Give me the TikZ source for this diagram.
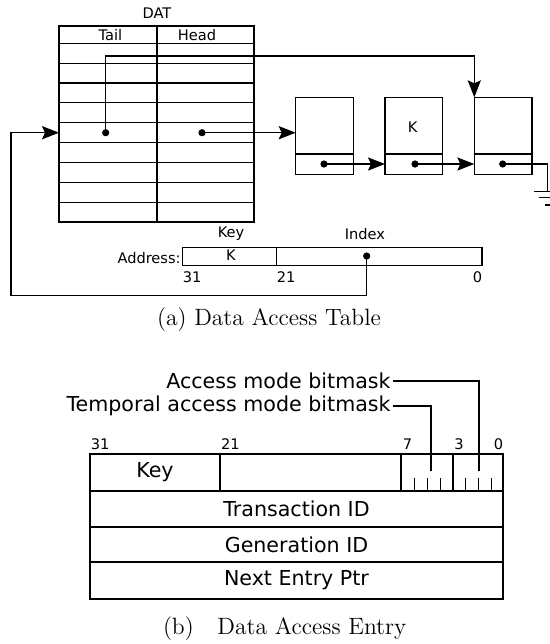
\documentclass[tikz,border=0pt]{standalone}
\usepackage{fontspec}
\newfontfamily\dv{DejaVu Sans}
\usetikzlibrary{arrows.meta}
\begin{document}
\begin{tikzpicture}[x=0.5pt,y=-0.5pt,
  thinln/.style={line width=0.6pt},
  thickln/.style={line width=0.95pt},
  arr/.style={-{Stealth[length=8.5pt,width=6.6pt,inset=1.5pt]}, line width=0.6pt},
  dot/.style={circle,fill,inner sep=0pt,minimum size=3.6pt},
  small/.style={font=\dv\fontsize{7.3}{8.8}\selectfont, inner sep=0pt},
  big/.style={font=\dv\fontsize{10.3}{12}\selectfont, inner sep=0pt},
  capt/.style={font=\fontsize{11.8}{14}\selectfont, inner sep=0pt}]
\useasboundingbox (0,0) rectangle (550,644);

% ---------- (a) DAT table ----------
\node[small] (dat) at (157,13) {DAT};
\draw[thinln] (59,26) rectangle (254,222);
\draw[thinln] (157,26) -- (157,222);
\draw[thinln] (59,43.3) -- (254,43.3);
\foreach \i in {1,...,8} \draw[thinln] (59,43.3+19.86*\i) -- (254,43.3+19.86*\i);
\node[small] (tail) at (110.5,34.7) {Tail};
\node[small] (head) at (197,34.7) {Head};
\node[dot] (tdot) at (105.7,132.7) {};
\node[dot] (hdot) at (202,132.7) {};
\coordinate (tin) at (59,132.7);

% list boxes
\foreach \n/\x in {b1/295.7,b2/385,b3/474.3}{
  \draw[thinln] (\x,97.3) rectangle (\x+57.7,174.7);
  \draw[thinln] (\x,154) -- (\x+57.7,154);
  \coordinate (\n tl) at (\x,97.3);
  \coordinate (\n in) at (\x,164);
  \coordinate (\n hin) at (\x,132.7);
}
\node[dot] (d1) at (324,164) {};
\node[dot] (d2) at (415,164) {};
\node[dot] (d3) at (502.7,164) {};
\node[small] (kbox) at (412.7,126.7) {K};

\draw[arr] (tdot.center) -- (105.7,56) -- (474.3,56) -- (b3tl);
\draw[arr] (hdot.center) -- (b1hin);
\draw[arr] (d1.center) -- (b2in);
\draw[arr] (d2.center) -- (b3in);
\coordinate (gnd) at (547.5,191.7);
\draw[thinln] (d3.center) -- (547.5,164) -- (gnd);
\draw[thinln] (534,191.7) -- (561,191.7);
\draw[thinln] (539,197.7) -- (556,197.7);
\draw[thinln] (545,205) -- (550,205);

% address
\draw[thinln] (182.7,247.7) rectangle (482,265.3);
\draw[thinln] (276.7,247.7) -- (276.7,265.3);
\node[small] (keyl) at (231,234) {Key};
\node[small] (idxl) at (365,234) {Index};
\node[small] (kk) at (231,255.5) {K};
\node[small,anchor=east] (addr) at (181,258) {Address:};
\node[small,anchor=west] (n31) at (182.5,277.5) {31};
\node[small,anchor=west] (n21) at (276.5,277.5) {21};
\node[small,anchor=east] (n0) at (482.5,277.5) {0};
\node[dot] (idot) at (366.7,256) {};
\draw[arr] (idot.center) -- (366.7,295.7) -- (11,295.7) -- (11,132.7) -- (tin);

\node[capt] (capa) at (269,320) {(a) Data Access Table};

% ---------- (b) Data access entry ----------
\draw[thickln] (90,454) rectangle (502.7,598.7);
\draw[thickln] (90,490.7) -- (502.7,490.7);
\draw[thickln] (90,526.7) -- (502.7,526.7);
\draw[thickln] (90,562) -- (502.7,562);
\draw[thickln] (220.3,454) -- (220.3,490.7);
\draw[thickln] (401.3,454) -- (401.3,490.7);
\draw[thickln] (453,454) -- (453,490.7);
\foreach \x in {414.2,427.2,440.2,465.8,478.8,491.6}
  \draw[thinln] (\x,478.3) -- (\x,490.7);
\node[big] (key) at (155,472) {Key};
\node[big] (tid) at (296.5,508.5) {Transaction ID};
\node[big] (gid) at (296.5,544.5) {Generation ID};
\node[big] (nep) at (296.5,580.5) {Next Entry Ptr};
\node[small,anchor=south west] (m31) at (90.5,450) {31};
\node[small,anchor=south west] (m21) at (220.8,450) {21};
\node[small,anchor=south west] (m7) at (402.5,450) {7};
\node[small,anchor=south west] (m3) at (454,450) {3};
\node[small,anchor=south west] (m0) at (493.5,450) {0};
\node[big,anchor=east] (tam) at (391,405.8) {Temporal access mode bitmask};
\node[big,anchor=east] (am) at (391,381) {Access mode bitmask};
\draw[thickln] (tam.east) ++(2,0) -- (430.7,405.8) -- (430.7,471);
\draw[thickln] (am.east) ++(2,0) -- (479,381) -- (479,471);

\node[capt] (capb) at (284.7,629) {(b)\quad Data Access Entry};
\end{tikzpicture}
\end{document}
